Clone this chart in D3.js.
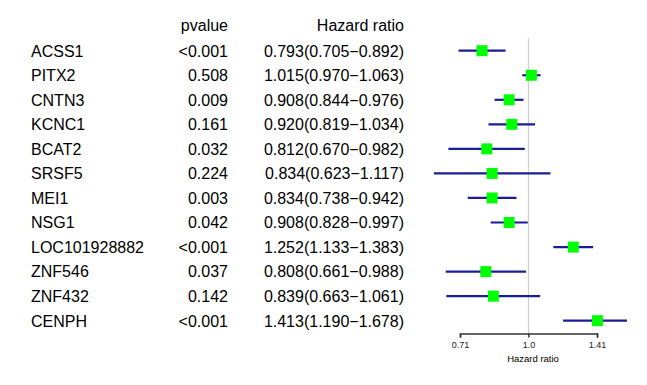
<!DOCTYPE html>
<html>
<head>
<meta charset="utf-8">
<script src="https://cdn.jsdelivr.net/npm/d3@7"></script>
<style>
  body { margin: 0; background: #fff; }
  svg { display: block; font-family: "Liberation Sans", Arial, sans-serif; }
</style>
</head>
<body>
<svg id="chart" width="647" height="385"></svg>
<script>
// data
const genes = ["ACSS1", "PITX2", "CNTN3", "KCNC1", "BCAT2", "SRSF5", "MEI1", "NSG1", "LOC101928882", "ZNF546", "ZNF432", "CENPH"];
const pvalues = ["<0.001", "0.508", "0.009", "0.161", "0.032", "0.224", "0.003", "0.042", "<0.001", "0.037", "0.142", "<0.001"];
const hr = [0.793, 1.015, 0.908, 0.920, 0.812, 0.834, 0.834, 0.908, 1.252, 0.808, 0.839, 1.413];
const lower = [0.705, 0.970, 0.844, 0.819, 0.670, 0.623, 0.738, 0.828, 1.133, 0.661, 0.663, 1.190];
const upper = [0.892, 1.063, 0.976, 1.034, 0.982, 1.117, 0.942, 0.997, 1.383, 0.988, 1.061, 1.678];
const tickValues = [0.71, 1.0, 1.41];
const tickLabels = ["0.71", "1.0", "1.41"];

const svg = d3.select("#chart");

// row positions
const y = d3.scalePoint()
    .domain(genes)
    .range([50.7, 320.7]);

// log x scale for the forest part
const x = d3.scaleLog()
    .domain([0.71, 1.41])
    .range([460, 597]);

const fmt = v => v.toFixed(3);

//text table
const textSize = 16;
svg.append("text")
    .attr("x", 228).attr("y", 31)
    .attr("text-anchor", "end")
    .style("font-size", textSize + "px")
    .text("pvalue");
svg.append("text")
    .attr("x", 404).attr("y", 31)
    .attr("text-anchor", "end")
    .style("font-size", textSize + "px")
    .text("Hazard ratio");

const rows = svg.append("g").selectAll("g")
    .data(genes)
    .enter()
    .append("g")
    .attr("transform", d => "translate(0," + (y(d) + 5.8) + ")");
rows.append("text")
    .attr("x", 31)
    .style("font-size", textSize + "px")
    .text(d => d);
rows.append("text")
    .attr("x", 228)
    .attr("text-anchor", "end")
    .style("font-size", textSize + "px")
    .text((d, i) => pvalues[i]);
rows.append("text")
    .attr("x", 404)
    .attr("text-anchor", "end")
    .style("font-size", textSize + "px")
    .text((d, i) => fmt(hr[i]) + "(" + fmt(lower[i]) + "\u2212" + fmt(upper[i]) + ")");

//reference line at 1
svg.append("line")
    .attr("x1", x(1)).attr("x2", x(1))
    .attr("y1", 38).attr("y2", 333)
    .attr("stroke", "#c8c8c8")
    .attr("stroke-width", 1);

//clip for plot region
svg.append("clipPath")
    .attr("id", "plotclip")
    .append("rect")
    .attr("x", 420).attr("y", 30)
    .attr("width", 207).attr("height", 300);

const marks = svg.append("g").attr("clip-path", "url(#plotclip)");

//confidence intervals
marks.selectAll("line.ci")
    .data(genes)
    .enter()
    .append("line")
    .attr("class", "ci")
    .attr("x1", (d, i) => x(lower[i]))
    .attr("x2", (d, i) => x(upper[i]))
    .attr("y1", d => y(d))
    .attr("y2", d => y(d))
    .attr("stroke", "#1c1c96")
    .attr("stroke-width", 2.2);

//hazard ratio boxes
const box = 11;
marks.selectAll("rect.hr")
    .data(genes)
    .enter()
    .append("rect")
    .attr("class", "hr")
    .attr("x", (d, i) => x(hr[i]) - box / 2)
    .attr("y", d => y(d) - box / 2)
    .attr("width", box)
    .attr("height", box)
    .attr("fill", "#00ff00");

//x axis
const axis = svg.append("g")
    .attr("transform", "translate(0,333.5)")
    .call(d3.axisBottom(x)
        .tickValues(tickValues)
        .tickFormat((d, i) => tickLabels[i])
        .tickSize(4)
        .tickSizeOuter(4)
        .tickPadding(4));
axis.select(".domain").attr("stroke", "#333").attr("stroke-width", 1.5);
axis.selectAll(".tick line").attr("stroke", "#333").attr("stroke-width", 1.5);
axis.selectAll(".tick text")
    .attr("fill", "#222")
    .style("font-size", "9px")
    .style("font-family", "Liberation Sans, Arial, sans-serif");

svg.append("text")
    .attr("x", 533).attr("y", 361.5)
    .attr("text-anchor", "middle")
    .style("font-size", "9.5px")
    .text("Hazard ratio");
</script>
</body>
</html>
